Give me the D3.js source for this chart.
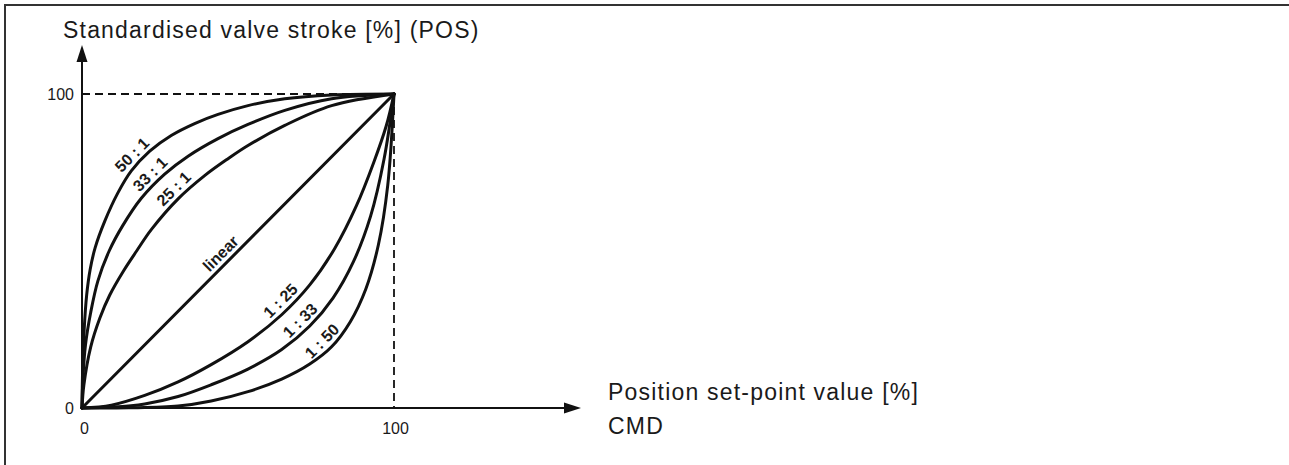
<!DOCTYPE html>
<html>
<head>
<meta charset="utf-8">
<script src="https://cdn.jsdelivr.net/npm/d3@7"></script>
<style>
  html, body { margin: 0; padding: 0; background: #fff; overflow: hidden; }
  svg { display: block; }
  text { font-family: "Liberation Sans", Arial, Helvetica, sans-serif; fill: #1a1a1a; }
</style>
</head>
<body>
<svg id="chart" width="1289" height="465"></svg>
<script>
// ---- data ----
const xTickValues = [0, 100];
const yTickValues = [0, 100];
const yAxisTitle = "Standardised valve stroke [%] (POS)";
const xAxisTitle = ["Position set-point value [%]", "CMD"];

const curve50to1 = [[0,0],[0.2,12],[0.7,25],[1.5,36],[2.6,44],[4.2,51],[7.3,59.5],[11.5,68.5],[15.8,75.5],[21.7,81.8],[28.6,86.8],[36.1,90.6],[43.6,93.5],[53.2,96.3],[65,98.5],[80,99.7],[100,100]];
const curve33to1 = [[0,0],[0.3,9.5],[1.1,20],[2.8,30.5],[5.1,40.5],[8.7,50],[13,58],[19,66.8],[26.5,74.5],[34,80.2],[43.6,85.8],[53.2,90.3],[65,94.8],[80,98.5],[100,100]];
const curve25to1 = [[0,0],[0.6,7.3],[2.8,19.5],[5.7,28.6],[8.9,36],[13.2,43.5],[17.5,50],[22.2,56.8],[30.8,66.6],[39.3,74],[46.8,79.4],[53.2,83.6],[65,90],[80,96.3],[100,100]];
const curveLinear = [[0,0],[100,100]];
const curve1to25 = [[0,0],[9.4,0.9],[20.1,4.0],[30.8,8.3],[41.4,13.8],[53.2,21.1],[64,29.7],[73,39.2],[81,50.8],[88,64.5],[93.5,78.2],[97.5,89.8],[100,100]];
const curve1to33 = [[0,0],[10,0.3],[20.1,1.3],[30.8,3.65],[41.4,7.4],[53.2,12.4],[64,18.6],[73,26.1],[80.5,35.1],[87,46.6],[92.5,61.1],[96.8,79.2],[100,100]];
const curve1to50 = [[0,0],[15,0.05],[30.8,0.6],[41.4,2.2],[53.2,5.2],[64,9.2],[73,14],[80,19.5],[86,27.5],[91,38],[95,52],[98,71],[100,100]];

const curveNames = ["50 : 1", "33 : 1", "25 : 1", "linear", "1 : 25", "1 : 33", "1 : 50"];
const curveData  = [curve50to1, curve33to1, curve25to1, curveLinear, curve1to25, curve1to33, curve1to50];
const labelAtX   = [18.4, 24.2, 31.8, 46.8, 66, 72.3, 79.3];

// ---- layout ----
const svg = d3.select("#chart");
const x = d3.scaleLinear().domain([0, 100]).range([82, 394]);
const y = d3.scaleLinear().domain([0, 100]).range([408, 94]);
const ink = "#111";
const fontFamily = "'Liberation Sans', Arial, Helvetica, sans-serif";

// frame
svg.append("path")
  .attr("d", "M5,465 V5 H1289")
  .attr("fill", "none").attr("stroke", "#333").attr("stroke-width", 2);

// dashed reference lines
svg.append("line")
  .attr("x1", x(0)).attr("x2", x(100)).attr("y1", y(100)).attr("y2", y(100))
  .attr("stroke", ink).attr("stroke-width", 1.8).attr("stroke-dasharray", "8,5");
svg.append("line")
  .attr("x1", x(100)).attr("x2", x(100)).attr("y1", y(100)).attr("y2", y(0))
  .attr("stroke", ink).attr("stroke-width", 1.8).attr("stroke-dasharray", "8,5");

// axes lines with arrows
const yTipY = 45, xTipX = 581;
svg.append("line").attr("x1", x(0)).attr("x2", x(0)).attr("y1", y(0)).attr("y2", yTipY + 10)
  .attr("stroke", ink).attr("stroke-width", 2);
svg.append("path")
  .attr("d", `M${x(0)},${yTipY} L${x(0)-5.5},${yTipY+17} L${x(0)+5.5},${yTipY+17} Z`)
  .attr("fill", ink);
svg.append("line").attr("x1", x(0)).attr("x2", xTipX - 10).attr("y1", y(0)).attr("y2", y(0))
  .attr("stroke", ink).attr("stroke-width", 2);
svg.append("path")
  .attr("d", `M${xTipX},${y(0)} L${xTipX-17},${y(0)-5.5} L${xTipX-17},${y(0)+5.5} Z`)
  .attr("fill", ink);

// tick labels via d3 axes
const xAxis = svg.append("g").attr("transform", `translate(0,${y(0)})`)
  .call(d3.axisBottom(x).tickValues(xTickValues).tickSize(0).tickPadding(15).tickFormat(d3.format("d")));
xAxis.select(".domain").remove();
xAxis.selectAll("text").attr("font-size", 16).style("font-family", fontFamily).attr("fill", "#1a1a1a").attr("dx", d => d === 0 ? 2 : 1);

const yAxis = svg.append("g").attr("transform", `translate(${x(0)},0)`)
  .call(d3.axisLeft(y).tickValues(yTickValues).tickSize(0).tickPadding(8).tickFormat(d3.format("d")));
yAxis.select(".domain").remove();
yAxis.selectAll("text").attr("font-size", 16).style("font-family", fontFamily).attr("fill", "#1a1a1a");

// axis titles
svg.append("text").attr("x", 63).attr("y", 38).attr("font-size", 23).attr("letter-spacing", 1.2).text(yAxisTitle);
svg.append("text").attr("x", 608).attr("y", 400).attr("font-size", 23).attr("letter-spacing", 1.2).text(xAxisTitle[0]);
svg.append("text").attr("x", 608).attr("y", 434).attr("font-size", 23).attr("letter-spacing", 1.2).text(xAxisTitle[1]);

// curves
const line = d3.line().x(d => x(d[0])).y(d => y(d[1])).curve(d3.curveCatmullRom.alpha(0.5));
svg.append("g").selectAll("path").data(curveData).join("path")
  .attr("d", line)
  .attr("fill", "none").attr("stroke", ink).attr("stroke-width", 3)
  .attr("stroke-linejoin", "round").attr("stroke-linecap", "round");

// labels along curves
function yAt(pts, xv) {
  for (let i = 1; i < pts.length; i++) {
    if (xv <= pts[i][0]) {
      const [x0, y0] = pts[i-1], [x1, y1] = pts[i];
      return y0 + (y1 - y0) * (xv - x0) / (x1 - x0);
    }
  }
  return pts[pts.length-1][1];
}
curveNames.forEach((name, i) => {
  const px = x(labelAtX[i]);
  const py = y(yAt(curveData[i], labelAtX[i]));
  svg.append("text")
    .attr("transform", `translate(${px},${py}) rotate(-45) translate(0,-5)`)
    .attr("text-anchor", "middle")
    .attr("font-size", 16).attr("font-weight", "bold")
    .text(name);
});
</script>
</body>
</html>
